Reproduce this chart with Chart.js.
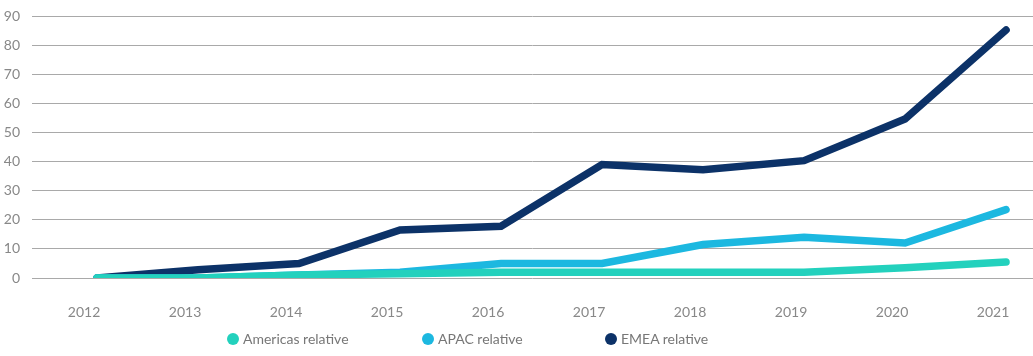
<!DOCTYPE html>
<html><head><meta charset="utf-8">
<script src="https://cdn.jsdelivr.net/npm/chart.js@4"></script>
<style>
html,body{margin:0;padding:0;background:#fff;}
#wrap{position:relative;width:1033px;height:356px;}
canvas{position:absolute;left:0;top:0;}
.lg{position:absolute;top:330px;height:18px;line-height:18px;font-family:Lato,"Open Sans",sans-serif;font-size:14px;color:#777;white-space:nowrap;}
.lg i{position:absolute;left:0;top:3px;width:12px;height:12px;border-radius:50%;}
.lg span{position:absolute;left:16px;top:0;}
</style></head><body>
<div id="wrap"><canvas id="c" width="1033" height="356"></canvas></div>
<script>
const years = [2012,2013,2014,2015,2016,2017,2018,2019,2020,2021];
const americas = [0,0,1,1.5,2,2,2,2,3.5,5.5];
const apac = [0,0,1,2,5,5,11.5,14,12,23.5];
const emea = [0,2.8,5,16.5,17.8,39,37.2,40.3,54.6,85.2];
const yTicks = [0,10,20,30,40,50,60,70,80,90];
const names = ["Americas relative","APAC relative","EMEA relative"];
const colors = ["#23d1bd","#1cb8e0","#0c3268"];
const legendX = [227,422,605];

const series=[americas,apac,emea];
const ds = series.map((s,i)=>({
  label:names[i],
  data:years.map((y,j)=>({x:y,y:s[j]})),
  borderColor:colors[i],backgroundColor:colors[i],
  borderWidth:7.5,borderCapStyle:'round',borderJoinStyle:'miter',
  pointRadius:0,tension:0,fill:false
}));
new Chart(document.getElementById('c'),{
  type:'line',
  data:{datasets:ds},
  options:{
    responsive:false,animation:false,
    layout:{padding:{top:16,left:0,right:0,bottom:0}},
    plugins:{legend:{display:false},tooltip:{enabled:false}},
    scales:{
      x:{type:'linear',min:2011.356,max:2021.267,
        afterBuildTicks:a=>{a.ticks=years.map(v=>({value:v}));},
        afterFit:a=>{a.height=78;a.paddingLeft=0;a.paddingRight=0;},
        grid:{display:false},border:{display:false},
        ticks:{padding:18,labelOffset:-13,color:'#888',font:{family:'Lato',size:14},callback:v=>String(v),maxRotation:0,autoSkip:false}
      },
      y:{min:0,max:90,
        afterBuildTicks:a=>{a.ticks=yTicks.map(v=>({value:v}));},
        afterFit:a=>{a.width=32;a.paddingTop=0;a.paddingBottom=0;},
        grid:{color:'#a9a9a9',lineWidth:1,drawTicks:false},border:{display:false},
        ticks:{padding:12,color:'#888',font:{family:'Lato',size:14}}
      }
    }
  }
});
const wrap=document.getElementById('wrap');
names.forEach((n,i)=>{
  const d=document.createElement('div');d.className='lg';d.style.left=legendX[i]+'px';
  d.innerHTML='<i style="background:'+colors[i]+'"></i><span>'+n+'</span>';
  wrap.appendChild(d);
});
</script>
</body></html>
